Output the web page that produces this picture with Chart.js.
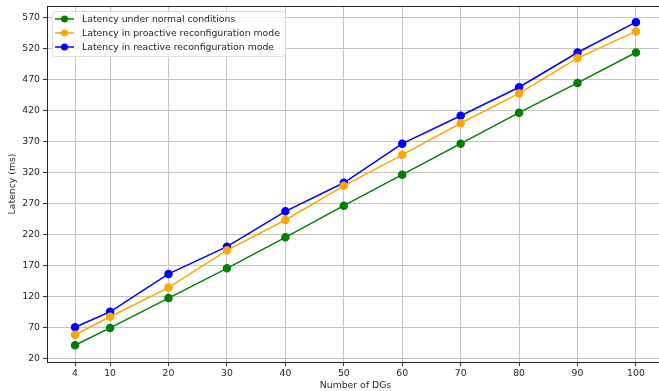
<!DOCTYPE html>
<html>
<head>
<meta charset="utf-8">
<script src="https://cdn.jsdelivr.net/npm/chart.js@4"></script>
<style>
  html, body { margin: 0; background: #fff; overflow: hidden; }
  /* the original figure is cut off on the right, so the canvas is a bit wider than the window */
  #wrap { width: 659px; height: 391px; overflow: hidden; }
</style>
</head>
<body>
<div id="wrap"><canvas id="myChart" width="669" height="391"></canvas></div>
<script>
// number of DGs on the x axis
var dgs = [4, 10, 20, 30, 40, 50, 60, 70, 80, 90, 100];
var normal = [42, 70, 118, 166, 216, 267, 317, 367, 417, 465, 514];
var proactive = [59, 88, 135, 195, 244, 299, 349, 400, 448, 505, 548];
var reactive = [71, 96, 157, 201, 258, 304, 367, 412, 458, 514, 563];

var xTicks = [4, 10, 20, 30, 40, 50, 60, 70, 80, 90, 100];
var yTicks = [20, 70, 120, 170, 220, 270, 320, 370, 420, 470, 520, 570];

var font = "'DejaVu Sans', sans-serif";
var fs = 9.3;

function pts(ys) {
  return dgs.map(function (x, i) { return { x: x, y: ys[i] }; });
}

function serie(label, color, ys) {
  return {
    label: label,
    data: pts(ys),
    borderColor: color,
    backgroundColor: color,
    borderWidth: 1.5,
    pointRadius: 3.5,
    pointHoverRadius: 3.5,
    tension: 0,
  };
}

// frame round the plot + a matplotlib-like legend box
var extras = {
  id: "extras",
  afterDatasetsDraw: function (chart) {
    var c = chart.ctx;
    var a = chart.chartArea;
    c.save();
    c.strokeStyle = "#222";
    c.lineWidth = 1;
    c.strokeRect(a.left + 0.5, a.top + 0.5, a.right - a.left - 1, a.bottom - a.top);

    // legend
    var x0 = a.left + 5, y0 = a.top + 5;
    var w = 233, h = 45;
    c.fillStyle = "rgba(255,255,255,0.8)";
    c.strokeStyle = "#dcdcdc";
    c.beginPath();
    c.roundRect(x0 + 0.5, y0 + 0.5, w, h, 3);
    c.fill();
    c.stroke();
    c.font = fs + "px " + font;
    c.textBaseline = "middle";
    chart.data.datasets.forEach(function (ds, i) {
      var cy = y0 + 8 + i * 14;
      c.strokeStyle = ds.borderColor;
      c.lineWidth = 1.5;
      c.beginPath();
      c.moveTo(x0 + 3, cy);
      c.lineTo(x0 + 22, cy);
      c.stroke();
      c.fillStyle = ds.borderColor;
      c.beginPath();
      c.arc(x0 + 12.5, cy, 3.5, 0, Math.PI * 2);
      c.fill();
      c.fillStyle = "#262626";
      c.fillText(ds.label, x0 + 30, cy + 0.5);
    });
    c.restore();
  },
};

var ctx = document.getElementById("myChart").getContext("2d");
var chart = new Chart(ctx, {
  type: "line",
  data: {
    datasets: [
      serie("Latency under normal conditions", "#008000", normal),
      serie("Latency in proactive reconfiguration mode", "#ffa500", proactive),
      serie("Latency in reactive reconfiguration mode", "#0000ff", reactive),
    ],
  },
  plugins: [extras],
  options: {
    responsive: false,
    animation: false,
    layout: { padding: { top: 6, right: 1, left: 7, bottom: 0 } },
    plugins: {
      legend: { display: false },
      tooltip: { enabled: false },
    },
    scales: {
      x: {
        type: "linear",
        min: -0.8,
        max: 104.8,
        afterBuildTicks: function (s) {
          s.ticks = xTicks.map(function (v) { return { value: v }; });
        },
        afterFit: function (s) {
          s.height = 29;
          s.paddingLeft = 0;
          s.paddingRight = 0;
        },
        grid: { color: "#c4c4c4", lineWidth: 1, tickLength: 4, tickColor: "#333" },
        border: { display: false },
        ticks: { font: { family: font, size: fs }, color: "#262626", padding: 2, maxRotation: 0 },
        title: {
          display: true,
          text: "Number of DGs",
          font: { family: font, size: fs },
          color: "#262626",
          padding: { top: 0, bottom: 0 },
        },
      },
      y: {
        min: 15,
        max: 589,
        afterBuildTicks: function (s) {
          s.ticks = yTicks.map(function (v) { return { value: v }; });
        },
        afterFit: function (s) {
          s.width = 40;
          s.paddingTop = 0;
          s.paddingBottom = 0;
        },
        grid: { color: "#c4c4c4", lineWidth: 1, tickLength: 4, tickColor: "#333" },
        border: { display: false },
        ticks: { font: { family: font, size: fs }, color: "#262626", padding: 3 },
        title: {
          display: true,
          text: "Latency (ms)",
          font: { family: font, size: fs },
          color: "#262626",
          padding: { top: 0, bottom: 2 },
        },
      },
    },
  },
});
</script>
</body>
</html>
